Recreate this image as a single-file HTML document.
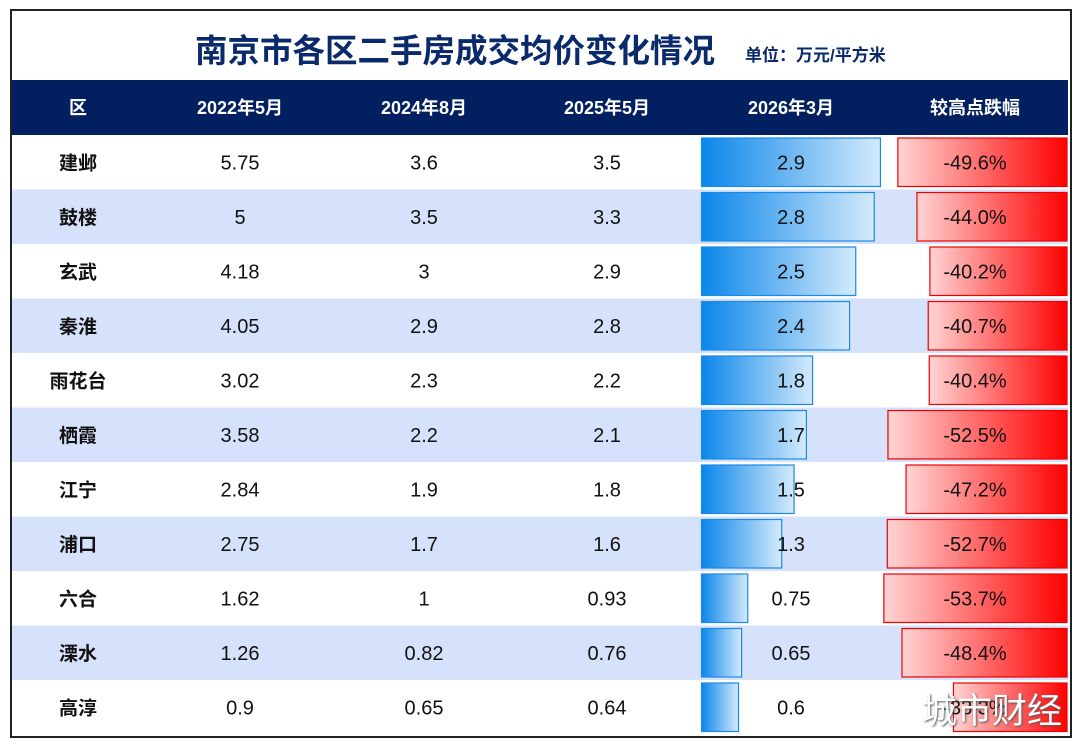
<!DOCTYPE html>
<html><head><meta charset="utf-8"><style>
body{margin:0;width:1080px;height:747px;background:#fff;overflow:hidden;font-family:"Liberation Sans","Noto Sans CJK SC",sans-serif}
#frame{position:absolute;left:10px;top:9px;width:1058px;height:725px;border:2px solid #222;box-sizing:content-box}
.t{position:absolute;white-space:nowrap}
</style></head><body>
<div id="frame"></div>
<div class="t" style="left:195px;top:25px;font-size:32.5px;font-weight:bold;color:#0a2a6b">南京市各区二手房成交均价变化情况</div>
<div class="t" style="left:745px;top:41px;font-size:17px;font-weight:bold;color:#0a2a6b">单位：万元/平方米</div>
<svg id="tbl" width="1080" height="747" style="position:absolute;left:0;top:0">
<defs>
<linearGradient id="gb" x1="0" x2="1"><stop offset="0" stop-color="#0a86ea"/><stop offset="1" stop-color="#d4eafb"/></linearGradient>
<linearGradient id="gr" x1="0" x2="1"><stop offset="0" stop-color="#ffd4d4"/><stop offset="1" stop-color="#ff0000"/></linearGradient>
</defs>
</svg>
<div class="t" style="left:922px;top:683px;font-size:35px;color:#fff;text-shadow:1px 1px 2px #555">城市财经</div>
<script>
const districts=["建邺","鼓楼","玄武","秦淮","雨花台","栖霞","江宁","浦口","六合","溧水","高淳"];
const p2022=["5.75","5","4.18","4.05","3.02","3.58","2.84","2.75","1.62","1.26","0.9"];
const p2024=["3.6","3.5","3","2.9","2.3","2.2","1.9","1.7","1","0.82","0.65"];
const p2025=["3.5","3.3","2.9","2.8","2.2","2.1","1.8","1.6","0.93","0.76","0.64"];
const p2026=[2.9,2.8,2.5,2.4,1.8,1.7,1.5,1.3,0.75,0.65,0.6];
const drops=[-49.6,-44.0,-40.2,-40.7,-40.4,-52.5,-47.2,-52.7,-53.7,-48.4,-33.3];
const headers=["区","2022年5月","2024年8月","2025年5月","2026年3月","较高点跌幅"];
const colX=[78,240,424,607,791,975];
const NS="http://www.w3.org/2000/svg";
const svg=document.getElementById('tbl');
function mk(tag,attrs,txt){const e=document.createElementNS(NS,tag);for(const k in attrs)e.setAttribute(k,attrs[k]);if(txt!==undefined)e.textContent=txt;svg.appendChild(e);return e;}
const top0=135,rowH=54.5;
const xBlue=v=>701+v*61.7;
const wRed=v=>Math.abs(v)*3.41;
const rowY=i=>top0+i*rowH;
let hb=mk('rect',{x:12,y:80,width:1056,height:55,fill:'#02205f'});


headers.forEach((h,j)=>{const t=mk('text',{x:colX[j],y:114,'text-anchor':'middle','font-size':18,'font-weight':'bold',fill:'#fff'},h);

});
districts.forEach((d,i)=>{
 const y=rowY(i);
 if(i%2===1){const bg=mk('rect',{x:12,y:y,width:1056,height:rowH,fill:'#d6e2fb'});
 
 }
 const b=mk('rect',{x:701.5,y:y+3,width:xBlue(p2026[i])-701,height:rowH-6,fill:'url(#gb)',stroke:'#1a8ae8','stroke-width':1.2});
 
 
 const w=wRed(drops[i]);
 const r=mk('rect',{x:1067-w,y:y+3,width:w,height:rowH-6,fill:'url(#gr)',stroke:'#ee0000','stroke-width':1.2});
 
 
 const cy=y+rowH/2+7;
 const vals=[d,p2022[i],p2024[i],p2025[i],String(p2026[i]),drops[i].toFixed(1)+'%'];
 vals.forEach((v,j)=>{const t=mk('text',{x:colX[j],y:cy,'text-anchor':'middle','font-size':j===0?19:20,'font-weight':j===0?'bold':'normal',fill:'#111'},v);
 
 });
});
</script>
</body></html>
